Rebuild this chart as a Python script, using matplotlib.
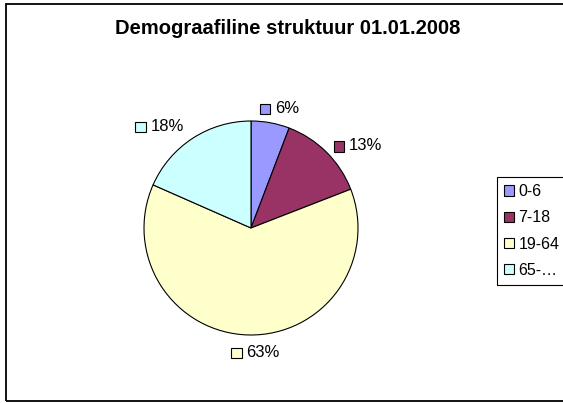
"""Demographic structure pie chart (01.01.2008)."""

import numpy as np
import matplotlib
matplotlib.use("Agg")
import matplotlib.pyplot as plt
from matplotlib.patches import Rectangle
from matplotlib.offsetbox import AnnotationBbox, DrawingArea, HPacker, TextArea

plt.rcParams["font.family"] = ["Liberation Sans", "DejaVu Sans"]

TITLE = "Demograafiline struktuur 01.01.2008"
AGE_GROUPS = ["0-6", "7-18", "19-64", "65-…"]
SHARES = [5.8, 13.3, 62.5, 18.4]
PCT_LABELS = ["6%", "13%", "63%", "18%"]
COLORS = ["#9999FF", "#993366", "#FFFFCC", "#CCFFFF"]

W, H = 563, 403
fig = plt.figure(figsize=(W / 100, H / 100), dpi=100)

# chart-area frame (right side runs off the image)
fig.patches.append(Rectangle((6 / W, 2 / H), 1.2, 397 / H, transform=fig.transFigure,
                             fill=False, edgecolor="black", linewidth=1.3))

fig.text(288 / W, 1 - 29 / H, TITLE, ha="center", va="center",
         fontsize=14.5, fontweight="bold")

cx, cy, r = 251, 228, 107
ax = fig.add_axes([(cx - r) / W, (H - cy - r) / H, 2 * r / W, 2 * r / H])
wedges, _ = ax.pie(SHARES, colors=COLORS, startangle=90, counterclock=False,
                   wedgeprops=dict(edgecolor="black", linewidth=0.8))
ax.set_xlim(-1, 1)
ax.set_ylim(-1, 1)
ax.set_aspect("equal")

# percent labels with a small colour key, placed outside each wedge
for w, txt, col in zip(wedges, PCT_LABELS, COLORS):
    mid = np.deg2rad((w.theta1 + w.theta2) / 2)
    x, y = 1.15 * np.cos(mid), 1.15 * np.sin(mid)
    if np.cos(mid) > 0.3:
        hx, vy = 0.08, 0.85
    elif np.cos(mid) < -0.3:
        hx, vy = 1.0, 0.6
    else:
        hx, vy = 0.35, 0.6
    da = DrawingArea(8, 8, 0, 0)
    da.add_artist(Rectangle((0, 0), 7.5, 7.5, facecolor=col, edgecolor="black", linewidth=0.8))
    ta = TextArea(txt, textprops=dict(fontsize=12))
    box = HPacker(children=[da, ta], align="center", pad=0, sep=3)
    ab = AnnotationBbox(box, (x, y), box_alignment=(hx, vy), frameon=False,
                        annotation_clip=False)
    ax.add_artist(ab)

leg = fig.legend(wedges, AGE_GROUPS, loc="upper left",
                 bbox_to_anchor=(497 / W, 1 - 177 / H), borderaxespad=0, fontsize=11.5,
                 handlelength=0.6, handleheight=0.6, handletextpad=0.3,
                 labelspacing=0.7, borderpad=0.45, fancybox=False,
                 edgecolor="black", framealpha=1)
leg.get_frame().set_linewidth(0.8)

fig.savefig("out.png", dpi=100)
